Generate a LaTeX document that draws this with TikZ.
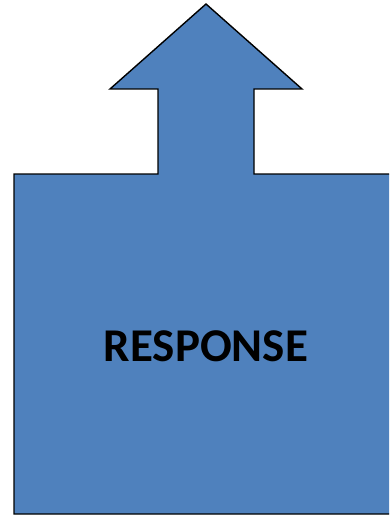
\documentclass[tikz,border=0pt]{standalone}
\usepackage{fontspec}
\setmainfont{Carlito}
\usetikzlibrary{positioning}
\definecolor{respfill}{HTML}{4F81BD}
\tikzset{respshape/.style={draw=black,line width=1.4pt,line join=miter,fill=respfill},
respl/.style={font=\fontsize{47}{50}\selectfont\bfseries,text=black,inner sep=0pt}}
\begin{document}
\begin{tikzpicture}[x=1pt,y=-1pt]
\useasboundingbox (0,0) rectangle (389,516);
\clip (0,0) rectangle (389,516);
\draw[respshape] (14,174) -- (158,174) -- (158,89) -- (110,89) -- (206,4) -- (302,89) -- (254,89) -- (254,174) -- (395,174) -- (395,514) -- (14,514) -- cycle;
\node[respl] (resp) at (206,346) {RESPONSE};
\end{tikzpicture}
\end{document}
